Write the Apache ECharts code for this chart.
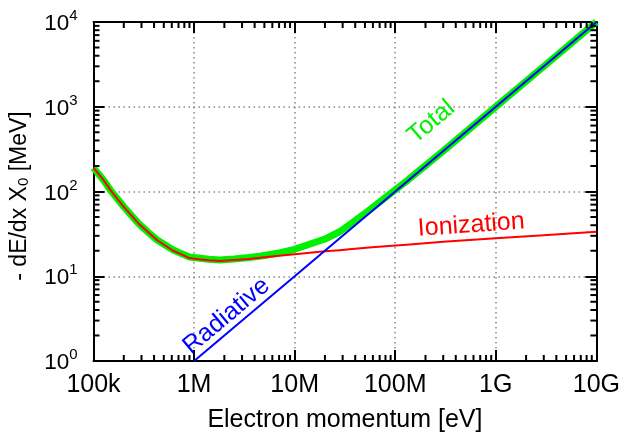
<!DOCTYPE html>
<html><head><meta charset="utf-8">
<script src="https://cdn.jsdelivr.net/npm/echarts@6/dist/echarts.min.js"></script>
<style>html,body{margin:0;padding:0;background:#fff}#c{width:623px;height:441px}</style>
</head><body><div id="c"></div>
<script>
// ---- data ----
const energy     = [1e5, 1.25e5, 1.5e5, 2e5, 2.8e5, 3.5e5, 4.3e5, 5.2e5, 6.2e5, 7.5e5, 9e5, 1.1e6, 1.4e6, 1.8e6, 2.5e6, 3.5e6, 4.5e6, 7e6, 1e7, 1.5e7, 2e7, 2.8e7, 3.5e7, 5.5e7, 8.6e7, 1.3e8, 3e8, 1e9, 3e9, 1e10];
const ionization = [190, 138, 101, 66, 42, 33, 26.6, 22.9, 20, 18.1, 16.4, 15.9, 15.4, 15.1, 15.5, 16.0, 16.5, 17.4, 18.2, 19.05, 19.7, 20.3, 20.8, 21.9, 22.8, 23.6, 25.5, 28, 30.5, 33.5];
const total      = [190, 138, 101, 66, 42, 33, 26.8, 23.2, 20.4, 18.5, 16.9, 16.4, 15.9, 15.6, 16.0, 16.6, 17.2, 18.8, 20.8, 24.5, 27.5, 33.5, 40.5, 60, 91, 133, 300, 1000, 3000, 10000];
const radEnergy  = [1e6, 1e10];
const radiative  = [1, 1e4];
const xTickLabels = {5:'100k', 6:'1M', 7:'10M', 8:'100M', 9:'1G', 10:'10G'};
const yTickExp    = {0:'0', 1:'1', 2:'2', 3:'3', 4:'4'};
const X_MIN = 1e5, X_MAX = 1e10, Y_MIN = 1, Y_MAX = 1e4;

const FONT = "'Liberation Sans', Arial, Helvetica, sans-serif";
const GREEN = '#00f000', RED = '#ff0000', BLUE = '#0000ff';

const xMinor = [], yMinor = [];
for (let d = 5; d < 10; d++) for (let m = 2; m <= 9; m++) xMinor.push(m * Math.pow(10, d));
for (let d = 0; d < 4; d++) for (let m = 2; m <= 9; m++) yMinor.push(m * Math.pow(10, d));

const chart = echarts.init(document.getElementById('c'), null, {renderer: 'canvas'});

function lbl(text, coord, rot, color) {
  return {symbol: 'circle', symbolSize: 0, data: [{coord: coord}], silent: true,
    label: {show: true, position: 'inside', formatter: text, rotate: rot, color: color, fontSize: 25, fontFamily: FONT}};
}

const axisCommon = {
  type: 'log', logBase: 10,
  axisLine: {show: true, onZero: false, lineStyle: {color: '#000', width: 2}},
  axisTick: {show: true, inside: true, length: 11, lineStyle: {color: '#000', width: 2}},
};
const gridLine = {show: true, lineStyle: {color: '#888', width: 1.5, type: [1.5, 3.5]}};

const option = {
  animation: false,
  backgroundColor: '#fff',
  textStyle: {fontFamily: FONT},
  grid: {left: 93, right: 24, top: 22, bottom: 80, containLabel: false},
  xAxis: [
    Object.assign({}, axisCommon, {
      min: X_MIN, max: X_MAX, splitNumber: 5, position: 'bottom',
      name: 'Electron momentum [eV]', nameLocation: 'middle', nameGap: 47, nameMoveOverlap: false,
      nameTextStyle: {fontSize: 25, color: '#000', fontFamily: FONT},
      axisLabel: {margin: 12, fontSize: 25, color: '#000', fontFamily: FONT,
        formatter: v => xTickLabels[Math.round(Math.log10(v))] || ''},
      splitLine: gridLine
    }),
    Object.assign({}, axisCommon, {
      min: X_MIN, max: X_MAX, splitNumber: 5, position: 'top',
      axisLabel: {show: false}, splitLine: {show: false}
    })
  ],
  yAxis: [
    Object.assign({}, axisCommon, {
      min: Y_MIN, max: Y_MAX, splitNumber: 4, position: 'left',
      name: '- dE/dx X{sub|0} [MeV]', nameLocation: 'middle', nameGap: 62, nameRotate: 90, nameMoveOverlap: false,
      nameTextStyle: {fontSize: 23, color: '#000', fontFamily: FONT, padding: [0, 9, 0, 0],
        rich: {sub: {fontSize: 15, color: '#000', fontFamily: FONT, verticalAlign: 'top', padding: [9, 0, 0, 0]}}},
      axisLabel: {margin: 16, color: '#000', fontFamily: FONT,
        formatter: v => '{b|10}{sup|' + yTickExp[Math.round(Math.log10(v))] + '}',
        rich: {
          b: {fontSize: 22.5, color: '#000', fontFamily: FONT, verticalAlign: 'bottom'},
          sup: {fontSize: 15, color: '#000', fontFamily: FONT, verticalAlign: 'bottom', padding: [0, 0, 12, 0]}
        }},
      splitLine: gridLine
    }),
    Object.assign({}, axisCommon, {
      min: Y_MIN, max: Y_MAX, splitNumber: 4, position: 'right',
      axisLabel: {show: false}, splitLine: {show: false}
    })
  ],
  series: [
    {
      name: 'Total', type: 'line', data: energy.map((e, i) => [e, total[i]]),
      symbol: 'none', z: 3,
      lineStyle: {color: GREEN, width: 7, join: 'round'}, itemStyle: {color: GREEN},
      markPoint: lbl('Total', [2.29e8, 661], 40, GREEN)
    },
    {
      name: 'Ionization', type: 'line', data: energy.map((e, i) => [e, ionization[i]]),
      symbol: 'none', z: 4,
      lineStyle: {color: RED, width: 2, join: 'round'}, itemStyle: {color: RED},
      markPoint: lbl('Ionization', [5.7e8, 40], 4, RED)
    },
    {
      name: 'Radiative', type: 'line', data: radEnergy.map((e, i) => [e, radiative[i]]),
      symbol: 'none', z: 5,
      lineStyle: {color: BLUE, width: 2}, itemStyle: {color: BLUE},
      markPoint: lbl('Radiative', [2.1e6, 3.4], 40, BLUE)
    },
    {
      type: 'custom', silent: true, clip: false, z: 6,
      data: xMinor.map(v => [v, Y_MIN]),
      renderItem: (params, api) => {
        const v = api.value(0);
        const b = api.coord([v, Y_MIN]), t = api.coord([v, Y_MAX]);
        const st = {stroke: '#000', lineWidth: 2};
        return {type: 'group', children: [
          {type: 'line', shape: {x1: b[0], y1: b[1], x2: b[0], y2: b[1] - 6}, style: st},
          {type: 'line', shape: {x1: t[0], y1: t[1], x2: t[0], y2: t[1] + 6}, style: st}
        ]};
      }
    },
    {
      type: 'custom', silent: true, clip: false, z: 6,
      data: yMinor.map(v => [X_MIN, v]),
      renderItem: (params, api) => {
        const v = api.value(1);
        const l = api.coord([X_MIN, v]), r = api.coord([X_MAX, v]);
        const st = {stroke: '#000', lineWidth: 2};
        return {type: 'group', children: [
          {type: 'line', shape: {x1: l[0], y1: l[1], x2: l[0] + 6, y2: l[1]}, style: st},
          {type: 'line', shape: {x1: r[0], y1: r[1], x2: r[0] - 6, y2: r[1]}, style: st}
        ]};
      }
    }
  ]
};
chart.setOption(option);
</script>
</body></html>
